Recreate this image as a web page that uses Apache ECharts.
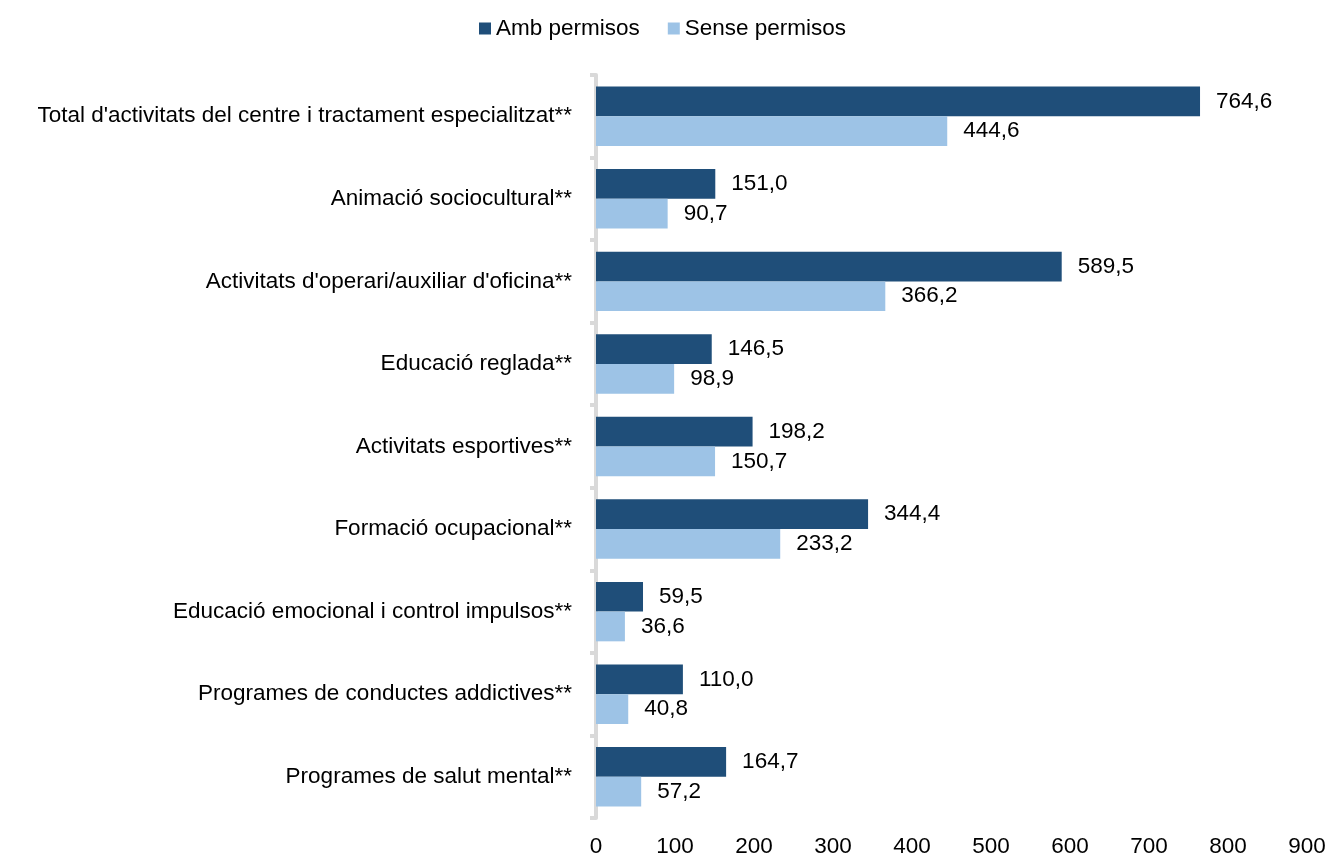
<!DOCTYPE html>
<html>
<head>
	<meta http-equiv="Content-Type" content="text/html; charset=utf-8" />
	<title></title>
	<script src="https://cdn.jsdelivr.net/npm/echarts@6/dist/echarts.min.js"></script>
</head>
<body style="padding: 0;margin: 0;background: #fff;">
<div id="main" style="width: 1332px;height: 858px;"></div>

<script type="text/javascript">
	// categories, top to bottom
	var categories = [
		"Total d'activitats del centre i tractament especialitzat**",
		"Animació sociocultural**",
		"Activitats d'operari/auxiliar d'oficina**",
		"Educació reglada**",
		"Activitats esportives**",
		"Formació ocupacional**",
		"Educació emocional i control impulsos**",
		"Programes de conductes addictives**",
		"Programes de salut mental**"
	];
	var ambPermisos = [764.6, 151.0, 589.5, 146.5, 198.2, 344.4, 59.5, 110.0, 164.7];
	var sensePermisos = [444.6, 90.7, 366.2, 98.9, 150.7, 233.2, 36.6, 40.8, 57.2];
	var seriesNames = ["Amb permisos", "Sense permisos"];
	var xTicks = [0, 900, 100]; // min, max, interval

	var font = "'Liberation Sans', Arial, sans-serif";
	var fs = 22.5;

	function fmt(p) {
		return p.value.toFixed(1).replace(".", ",");
	}

	var myChart = echarts.init(document.getElementById('main'));
	var option = {
		animation: false,
		textStyle: { fontFamily: font },
		legend: {
			data: seriesNames,
			top: 17,
			left: 479,
			padding: 0,
			itemWidth: 12,
			itemHeight: 12,
			itemGap: 28,
			icon: "rect",
			textStyle: { fontSize: fs, color: "#000", fontFamily: font }
		},
		grid: { left: 596, right: 25, top: 75, bottom: 37 },
		xAxis: {
			type: "value",
			min: xTicks[0],
			max: xTicks[1],
			interval: xTicks[2],
			axisLine: { show: false },
			axisTick: { show: false },
			splitLine: { show: false },
			axisLabel: { fontSize: fs, color: "#000", fontFamily: font, margin: 17 }
		},
		yAxis: {
			type: "category",
			data: categories,
			inverse: true,
			offset: 3,
			axisLine: { show: true, lineStyle: { color: "#d9d9d9", width: 4 } },
			axisTick: { show: true, length: 6, lineStyle: { color: "#d9d9d9", width: 4 } },
			axisLabel: { fontSize: fs, color: "#000", fontFamily: font, margin: 21 }
		},
		series: [
			{
				name: seriesNames[0],
				type: "bar",
				data: ambPermisos,
				barGap: "0%",
				barCategoryGap: "28%",
				itemStyle: { color: "#1F4E79" },
				label: { show: true, position: "right", distance: 16, fontSize: fs, color: "#000", fontFamily: font, formatter: fmt }
			},
			{
				name: seriesNames[1],
				type: "bar",
				data: sensePermisos,
				barGap: "0%",
				barCategoryGap: "28%",
				itemStyle: { color: "#9DC3E6" },
				label: { show: true, position: "right", distance: 16, fontSize: fs, color: "#000", fontFamily: font, formatter: fmt }
			}
		]
	};
	myChart.setOption(option);
</script>
</body>
</html>
